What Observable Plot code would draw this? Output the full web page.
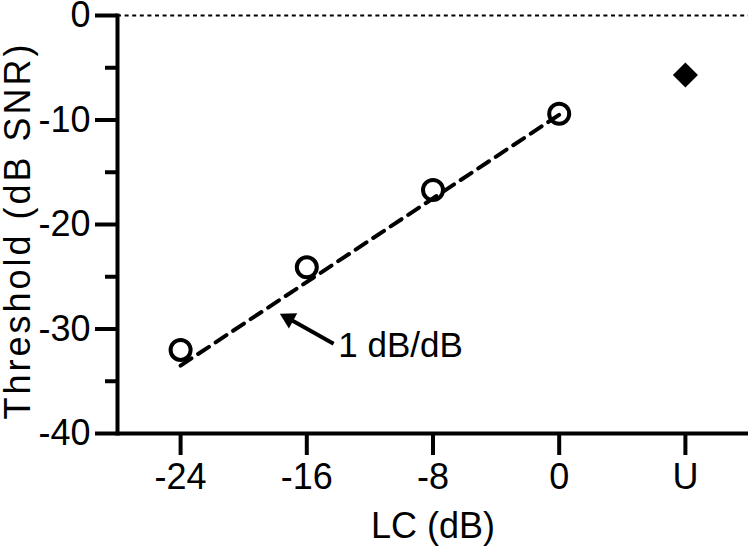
<!DOCTYPE html>
<html><head><meta charset="utf-8">
<script src="https://cdn.jsdelivr.net/npm/d3@7"></script>
<script src="https://cdn.jsdelivr.net/npm/@observablehq/plot@0.6"></script>
<style>
html,body{margin:0;padding:0;background:#fff;}
</style></head><body><div id="chart"></div>
<script>
// ---- data ----
const lcLabels = ["-24", "-16", "-8", "0", "U"];
const lcSlots = [-24, -16, -8, 0, 8];        // axis slot of each category ("U" = unprocessed)
const lcValues = [-24, -16, -8, 0];
const thresholds = [-32.0, -24.1, -16.7, -9.4];
const unprocessedSlot = 8;
const unprocessedThreshold = -5.7;
const fitX = [-24, 0];
const fitY = [-33.5, -9.5];
const yMajorTicks = [-40, -30, -20, -10, 0];
const yMinorTicks = [-35, -25, -15, -5];
const annotation = [{text: "1 dB/dB", x: -14.0, y: -32.7}];
const arrowTail = {x: -14.3, y: -31.4};
const arrowHead = {x: -17.15, y: -29.0};

// ---- chart ----
const font = "'Liberation Sans', Arial, Helvetica, sans-serif";
const points = lcValues.map((x, i) => ({x, y: thresholds[i]}));
const fit = fitX.map((x, i) => ({x, y: fitY[i]}));

const chart = Plot.plot({
  width: 750, height: 548,
  marginLeft: 117, marginRight: 2, marginTop: 15, marginBottom: 115,
  x: {type: "linear", domain: [-28, 12], label: null},
  y: {domain: [-40, 0], label: null},
  style: {fontFamily: font, fontSize: "36px", background: "#fff", color: "#000", overflow: "visible"},
  marks: [
    Plot.ruleY([0], {stroke: "#000", strokeWidth: 2.2, strokeDasharray: "4,3.6"}),
    Plot.axisY(yMinorTicks, {tickSize: 12, strokeWidth: 4, tickFormat: () => "", label: null}),
    Plot.axisY(yMajorTicks, {tickSize: 22, strokeWidth: 4, tickPadding: 5, tickFormat: d => String(d), fontSize: 36, label: null}),
    Plot.axisX(lcSlots, {tickSize: 22, strokeWidth: 4, tickPadding: 8, tickFormat: d => lcLabels[lcSlots.indexOf(d)], fontSize: 36, label: null}),
    Plot.frame({anchor: "left", stroke: "#000", strokeWidth: 4}),
    Plot.ruleY([-40], {stroke: "#000", strokeWidth: 4}),
    Plot.line(fit, {x: "x", y: "y", stroke: "#000", strokeWidth: 4, strokeDasharray: "13,8"}),
    Plot.dot(points, {x: "x", y: "y", r: 10, stroke: "#000", strokeWidth: 4, fill: "none"}),
    Plot.dot([{x: unprocessedSlot, y: unprocessedThreshold}], {x: "x", y: "y", symbol: "diamond2", r: 11.3, fill: "#000", stroke: "none"}),
    Plot.link([{tail: arrowTail, head: arrowHead}], {x1: d => d.tail.x, y1: d => d.tail.y, x2: d => d.head.x, y2: d => d.head.y, stroke: "#000", strokeWidth: 4}),
    Plot.dot([arrowHead], {x: "x", y: "y", symbol: "triangle2", r: 8.3, rotate: -61.4, fill: "#000", stroke: "none"}),
    Plot.text(annotation, {x: "x", y: "y", text: "text", textAnchor: "start", lineAnchor: "bottom", fontSize: 35, fill: "#000"}),
    Plot.text(["LC (dB)"], {text: d => d, frameAnchor: "bottom", dy: 104, lineAnchor: "bottom", textAnchor: "middle", fontSize: 36, fill: "#000"}),
    Plot.text(["Threshold (dB SNR)"], {text: d => d, frameAnchor: "left", dx: -88, dy: 6, rotate: -90, lineAnchor: "bottom", textAnchor: "middle", fontSize: 36, fill: "#000"})
  ]
});

d3.select(chart).selectAll("text").each(function() {
  if (this.textContent === "Threshold (dB SNR)") this.style.letterSpacing = "3px";
});

document.getElementById("chart").appendChild(chart);
</script>
</body></html>
